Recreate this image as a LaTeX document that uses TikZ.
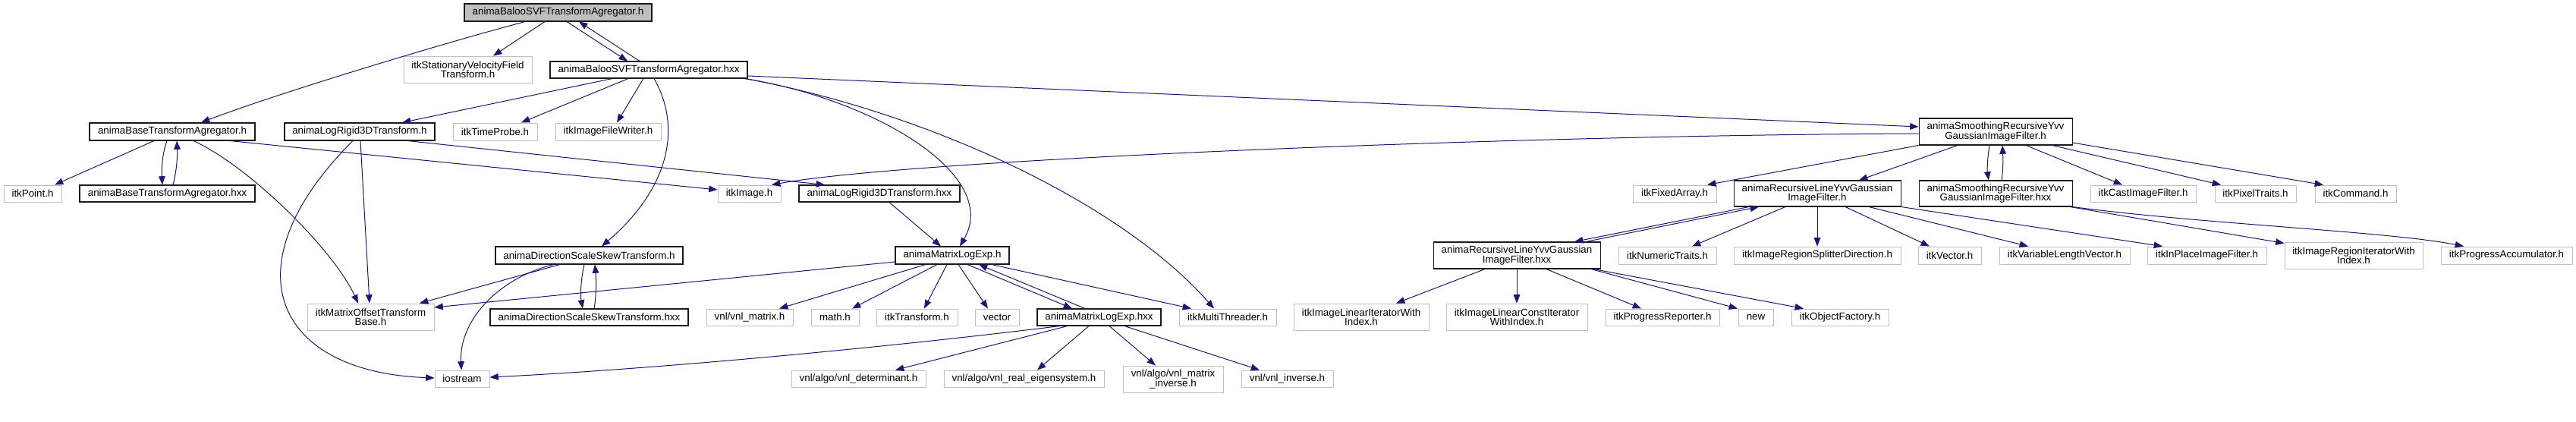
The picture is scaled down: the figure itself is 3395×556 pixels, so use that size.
\documentclass[tikz,border=0pt]{standalone}
\usepackage{fontspec}
\setmainfont{Liberation Sans}
\usetikzlibrary{arrows.meta,calc}
\definecolor{edgeblue}{HTML}{191970}
\definecolor{extgray}{HTML}{BFBFBF}
\definecolor{docborder}{HTML}{1A1A1A}
\tikzset{
  box/.style={draw=docborder, line width=0.78pt, rectangle, inner sep=0pt, align=center,
    font={\fontsize{10}{9.3}\selectfont\lineskiplimit=-10pt}},
  ext/.style={box, draw=extgray, line width=0.7pt},
  root/.style={box, fill=extgray},
  bw/.style={minimum width=#1*0.75pt},
  bh/.style={minimum height=#1*0.75pt},
  edge/.style={draw=edgeblue, line width=0.75pt, -{Triangle[length=8.5pt,width=6.5pt]}}
}
\begin{document}
\begin{tikzpicture}[x=0.75pt,y=-0.75pt]
\useasboundingbox (0,0) rectangle (3395,556);
% nodes
\node[root,bw=247,bh=23] (baloo) at (735.5,16.5) {animaBalooSVFTransformAgregator.h};
\node[box,bw=218,bh=23] (baseh) at (227,173.5) {animaBaseTransformAgregator.h};
\node[ext,bw=169,bh=35] (stat) at (616.5,91.5) {itkStationaryVelocityField\\Transform.h};
\node[box,bw=260,bh=22] (balooxx) at (855,92) {animaBalooSVFTransformAgregator.hxx};
\node[ext,bw=76,bh=22] (point) at (43,255) {itkPoint.h};
\node[box,bw=231,bh=22] (basexx) at (220.5,255) {animaBaseTransformAgregator.hxx};
\node[box,bw=198,bh=23] (logh) at (474,173.5) {animaLogRigid3DTransform.h};
\node[ext,bw=111,bh=23] (timeprobe) at (652.5,173.5) {itkTimeProbe.h};
\node[ext,bw=139,bh=23] (writer) at (801.5,173.5) {itkImageFileWriter.h};
\node[ext,bw=83,bh=22] (image) at (987.5,255) {itkImage.h};
\node[box,bw=212,bh=22] (loghxx) at (1159,255) {animaLogRigid3DTransform.hxx};
\node[box,bw=247,bh=23] (dssh) at (776.5,336.5) {animaDirectionScaleSkewTransform.h};
\node[box,bw=261,bh=22] (dsshxx) at (776.5,418) {animaDirectionScaleSkewTransform.hxx};
\node[ext,bw=167,bh=35] (mob) at (488.5,417.5) {itkMatrixOffsetTransform\\Base.h};
\node[ext,bw=72,bh=22] (iostream) at (609,499) {iostream};
\node[box,bw=150,bh=23] (mlh) at (1255,336.5) {animaMatrixLogExp.h};
\node[ext,bw=114,bh=22] (vnlmatrix) at (988,418) {vnl/vnl\_matrix.h};
\node[ext,bw=63,bh=22] (math) at (1100.5,418) {math.h};
\node[ext,bw=107,bh=22] (itktransform) at (1208.5,418) {itkTransform.h};
\node[ext,bw=58,bh=22] (vector) at (1314,418) {vector};
\node[box,bw=163,bh=22] (mlhxx) at (1448.5,418) {animaMatrixLogExp.hxx};
\node[ext,bw=128,bh=22] (multithreader) at (1618,418) {itkMultiThreader.h};
\node[ext,bw=177,bh=22] (det) at (1131.5,499) {vnl/algo/vnl\_determinant.h};
\node[ext,bw=211,bh=22] (eig) at (1349.5,499) {vnl/algo/vnl\_real\_eigensystem.h};
\node[ext,bw=132,bh=35] (matinv) at (1546,499.5) {vnl/algo/vnl\_matrix\\\_inverse.h};
\node[ext,bw=121,bh=22] (inverse) at (1696.5,499) {vnl/vnl\_inverse.h};
\node[ext,bw=178,bh=35] (linit) at (1794,417.5) {itkImageLinearIteratorWith\\Index.h};
\node[ext,bw=186,bh=35] (linconst) at (1999,417.5) {itkImageLinearConstIterator\\WithIndex.h};
\node[box,bw=220,bh=35] (rlhxx) at (1999,336.5) {animaRecursiveLineYvvGaussian\\ImageFilter.hxx};
\node[ext,bw=150,bh=22] (progrep) at (2191,418) {itkProgressReporter.h};
\node[ext,bw=129,bh=23] (numtraits) at (2197.5,336.5) {itkNumericTraits.h};
\node[ext,bw=110,bh=22] (fixedarray) at (2207,255) {itkFixedArray.h};
\node[box,bw=220,bh=34] (rlh) at (2395,255) {animaRecursiveLineYvvGaussian\\ImageFilter.h};
\node[ext,bw=220,bh=23] (splitter) at (2395,336.5) {itkImageRegionSplitterDirection.h};
\node[ext,bw=83,bh=23] (itkvector) at (2569.5,336.5) {itkVector.h};
\node[ext,bw=46,bh=22] (new) at (2314,418) {new};
\node[ext,bw=128,bh=22] (objfactory) at (2425,418) {itkObjectFactory.h};
\node[box,bw=202,bh=35] (smh) at (2630,173.5) {animaSmoothingRecursiveYvv\\GaussianImageFilter.h};
\node[box,bw=202,bh=34] (smhxx) at (2630,255) {animaSmoothingRecursiveYvv\\GaussianImageFilter.hxx};
\node[ext,bw=139,bh=22] (cast) at (2824.5,255) {itkCastImageFilter.h};
\node[ext,bw=107,bh=22] (pixtraits) at (2972.5,255) {itkPixelTraits.h};
\node[ext,bw=107,bh=22] (command) at (3104.5,255) {itkCommand.h};
\node[ext,bw=172,bh=23] (varlen) at (2721,336.5) {itkVariableLengthVector.h};
\node[ext,bw=157,bh=23] (inplace) at (2908.5,336.5) {itkInPlaceImageFilter.h};
\node[ext,bw=182,bh=35] (regionit) at (3102,336.5) {itkImageRegionIteratorWith\\Index.h};
\node[ext,bw=173,bh=23] (progacc) at (3303.5,336.5) {itkProgressAccumulator.h};
% edges
\draw[edge] ($(baloo.south)+(-43.5,0)$) .. controls (580,58) and (360,125) .. ($(baseh.north)+(38,0)$);
\draw[edge] ($(baloo.south)+(-17.5,0)$) -- ($(stat.north)+(33.5,0)$);
\draw[edge] ($(baloo.south)+(11.5,0)$) -- ($(balooxx.north)+(-28,0)$);
\draw[edge] ($(balooxx.north)+(-12,0)$) -- ($(baloo.south)+(27.5,0)$);
\draw[edge] ($(baseh.south)+(-24,0)$) -- ($(point.north)+(29,0)$);
\draw[edge] ($(baseh.south)+(-7,0)$) .. controls (213,205) and (213,225) .. ($(basexx.north)+(-6.5,0)$);
\draw[edge] ($(basexx.north)+(7.5,0)$) .. controls (233,225) and (234,205) .. ($(baseh.south)+(6,0)$);
\draw[edge] ($(baseh.south)+(28,0)$) .. controls (330,220) and (440,330) .. ($(mob.north)+(-16.5,0)$);
\draw[edge] ($(baseh.south)+(76,0)$) -- ($(image.west)+(0,-5)$);
\draw[edge] ($(logh.south)+(1,0)$) -- ($(mob.north)+(-1.5,0)$);
\draw[edge] ($(logh.south)+(-9,0)$) .. controls (300,350) and (360,490) .. ($(iostream.west)+(0,-1)$);
\draw[edge] ($(logh.south)+(63,0)$) -- ($(loghxx.north)+(-72,0)$);
\draw[edge] ($(balooxx.south)+(-48,0)$) -- ($(logh.north)+(56,0)$);
\draw[edge] ($(balooxx.south)+(-27,0)$) -- ($(timeprobe.north)+(34.5,0)$);
\draw[edge] ($(balooxx.south)+(-7,0)$) -- ($(writer.north)+(11.5,0)$);
\draw[edge] ($(balooxx.south)+(7,0)$) .. controls (900,170) and (880,250) .. ($(dssh.north)+(16.5,0)$);
\draw[edge] ($(balooxx.south east)+(-5,0)$) .. controls (1150,130) and (1320,230) .. ($(mlh.north)+(10,0)$);
\draw[edge] ($(balooxx.south east)+(-3,0)$) .. controls (1230,150) and (1480,270) .. ($(multithreader.north)+(-18,0)$);
\draw[edge] ($(balooxx.east)+(0,8)$) -- ($(smh.west)+(0,-6.5)$);
\draw[edge] ($(smh.west)+(0,2.5)$) .. controls (2000,178) and (1200,210) .. ($(image.north)+(29.5,0)$);
\draw[edge] ($(loghxx.south)+(13,0)$) -- ($(mlh.north)+(-15,0)$);
\draw[edge] ($(dssh.south)+(-38.5,0)$) -- ($(mob.north)+(64.5,0)$);
\draw[edge] ($(dssh.south)+(-46.5,0)$) .. controls (660,365) and (605,420) .. ($(iostream.north)+(-1,0)$);
\draw[edge] ($(dssh.south)+(-6.5,0)$) .. controls (765,370) and (765,390) .. ($(dsshxx.north)+(-8.5,0)$);
\draw[edge] ($(dsshxx.north)+(6.5,0)$) .. controls (786,390) and (786,370) .. ($(dssh.south)+(7.5,0)$);
\draw[edge] ($(mlh.west)+(0,8.5)$) -- ($(mob.east)+(0,-12.5)$);
\draw[edge] ($(mlh.south)+(-35,0)$) -- ($(vnlmatrix.north)+(39,0)$);
\draw[edge] ($(mlh.south)+(-20,0)$) -- ($(math.north)+(22.5,0)$);
\draw[edge] ($(mlh.south)+(-7,0)$) -- ($(itktransform.north)+(9.5,0)$);
\draw[edge] ($(mlh.south)+(8,0)$) -- ($(vector.north)+(-12,0)$);
\draw[edge] ($(mlh.south)+(20,0)$) -- ($(mlhxx.north)+(-35.5,0)$);
\draw[edge] ($(mlhxx.north)+(-18.5,0)$) -- ($(mlh.south)+(35,0)$);
\draw[edge] ($(mlh.south)+(52,0)$) -- ($(multithreader.north)+(-48,0)$);
\draw[edge] ($(mlhxx.south)+(-51.5,0)$) .. controls (1150,460) and (850,487) .. ($(iostream.east)+(0,-2)$);
\draw[edge] ($(mlhxx.south)+(-41.5,0)$) -- ($(det.north)+(48.5,0)$);
\draw[edge] ($(mlhxx.south)+(-13.5,0)$) -- ($(eig.north)+(17.5,0)$);
\draw[edge] ($(mlhxx.south)+(13.5,0)$) -- ($(matinv.north)+(-23,0)$);
\draw[edge] ($(mlhxx.south)+(33.5,0)$) -- ($(inverse.north)+(-36.5,0)$);
\draw[edge] (smh.south west) -- ($(fixedarray.north)+(43,0)$);
\draw[edge] ($(smh.south)+(-50,0)$) -- ($(rlh.north)+(55,0)$);
\draw[edge] ($(smh.south)+(-8,0)$) .. controls (2619,210) and (2619,225) .. ($(smhxx.north)+(-9,0)$);
\draw[edge] ($(smhxx.north)+(8,0)$) .. controls (2640,225) and (2640,210) .. ($(smh.south)+(9,0)$);
\draw[edge] ($(smh.south)+(40,0)$) -- ($(cast.north)+(-27.5,0)$);
\draw[edge] ($(smh.south)+(75,0)$) -- ($(pixtraits.north)+(-45.5,0)$);
\draw[edge] ($(smh.east)+(0,14.5)$) -- ($(command.north)+(-42.5,0)$);
\draw[edge] ($(smhxx.south)+(98,0)$) -- ($(regionit.north west)+(0,2)$);
\draw[edge] (smhxx.south east) .. controls (2900,295) and (3150,305) .. ($(progacc.north)+(-56.5,0)$);
\draw[edge] ($(rlh.south)+(-42,0)$) -- ($(numtraits.north)+(32.5,0)$);
\draw[edge] (rlh) -- (splitter);
\draw[edge] ($(rlh.south)+(37,0)$) -- ($(itkvector.north)+(-26.5,0)$);
\draw[edge] ($(rlh.south)+(68,0)$) -- ($(varlen.north)+(-48,0)$);
\draw[edge] (rlh.south east) -- ($(inplace.north)+(-58.5,0)$);
\draw[edge] ($(rlh.south)+(-90,0)$) -- ($(rlhxx.north)+(76,0)$);
\draw[edge] ($(rlhxx.north)+(91,0)$) -- ($(rlh.south)+(-77,0)$);
\draw[edge] ($(rlhxx.south)+(-42,0)$) -- ($(linit.north)+(46,0)$);
\draw[edge] (rlhxx) -- (linconst);
\draw[edge] ($(rlhxx.south)+(39,0)$) -- ($(progrep.north)+(-28,0)$);
\draw[edge] ($(rlhxx.south)+(98,0)$) -- ($(new.north)+(-24,0)$);
\draw[edge] ($(rlhxx.south)+(101,0)$) -- ($(objfactory.north)+(-48,0)$);
\end{tikzpicture}
\end{document}
